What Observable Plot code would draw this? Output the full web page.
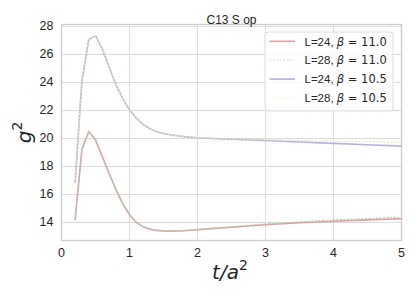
<!DOCTYPE html>
<html><head><meta charset="utf-8">
<script src="https://cdn.jsdelivr.net/npm/d3@7"></script>
<script src="https://cdn.jsdelivr.net/npm/@observablehq/plot@0.6"></script>
<style>body{margin:0;background:#fff}</style>
</head><body><div id="chart"></div>
<script>
const t = [0.2,0.3,0.4,0.5,0.6,0.7,0.8,0.9,1.0,1.1,1.2,1.3,1.4,1.5,1.6,1.8,2.0,2.2,2.5,3.0,3.5,4.0,4.5,5.0];
const L24b110 = [14.19,19.2,20.5,19.9,18.7,17.5,16.35,15.35,14.55,14.0,13.7,13.52,13.43,13.39,13.38,13.41,13.48,13.56,13.66,13.84,13.98,14.09,14.18,14.26];
const L28b110 = [14.19,19.2,20.5,19.9,18.7,17.5,16.35,15.35,14.55,14.0,13.7,13.52,13.43,13.39,13.38,13.42,13.5,13.58,13.7,13.9,14.05,14.18,14.28,14.38];
const L24b105 = [16.84,24.1,27.05,27.35,26.4,25.1,23.85,22.85,22.05,21.45,21.0,20.7,20.5,20.36,20.26,20.13,20.05,20.0,19.95,19.85,19.75,19.65,19.55,19.45];
const L28b105 = [16.84,24.1,27.05,27.35,26.4,25.1,23.85,22.85,22.05,21.45,21.0,20.7,20.5,20.36,20.26,20.13,20.06,20.02,19.98,19.92,19.86,19.81,19.77,19.73];
const xTicks = [0,1,2,3,4,5];
const yTicks = [14,16,18,20,22,24,26,28];
const title = "C13 S op";

const series = [
  {name:"L=24", beta:"11.0", vals:L24b110, color:"#e39ca2", dash:null, w:1.6},
  {name:"L=28", beta:"11.0", vals:L28b110, color:"#9dd8ac", dash:"1,2.6", w:1.2},
  {name:"L=24", beta:"10.5", vals:L24b105, color:"#b6b2de", dash:null, w:1.6},
  {name:"L=28", beta:"10.5", vals:L28b105, color:"#efe3b0", dash:"1,2.6", w:1.2},
];
const rows = (s) => t.map((x,i)=>({t:x, y:s.vals[i]}));
const sans = "'Liberation Sans', Arial, sans-serif";
const math = "'DejaVu Sans', sans-serif";

const plot = Plot.plot({
  width:415, height:297,
  marginLeft:61, marginRight:14, marginTop:24, marginBottom:57,
  style:{fontFamily:sans, fontSize:"12.5px", color:"#262626", background:"#fff"},
  x:{domain:[0,5], ticks:xTicks, tickSize:0, tickPadding:8, label:null, tickFormat:d=>String(d)},
  y:{domain:[12.71,28.14], ticks:yTicks, tickSize:0, tickPadding:8, label:null},
  marks:[
    Plot.gridX(xTicks,{stroke:"#dcdcdc", strokeOpacity:1, strokeWidth:1.1}),
    Plot.gridY(yTicks,{stroke:"#dcdcdc", strokeOpacity:1, strokeWidth:1.1}),
    Plot.frame({stroke:"#cccccc", strokeWidth:1.3}),
    ...series.map(s=>Plot.line(rows(s),{x:"t", y:"y", stroke:s.color, strokeWidth:s.w, strokeDasharray:s.dash})),
    Plot.text([title],{frameAnchor:"top", dy:-9, fontSize:12, fill:"#262626"}),
  ]
});
document.getElementById("chart").appendChild(plot);

const svg = d3.select(plot);
const yl = svg.append("text").attr("transform","translate(30.5,132.5) rotate(-90)")
  .attr("text-anchor","middle").attr("font-family",math).attr("font-size",20).attr("fill","#262626");
yl.append("tspan").attr("font-style","italic").text("g");
yl.append("tspan").attr("font-size",14).attr("dy",-9).text("2");
const xl = svg.append("text").attr("x",230).attr("y",279)
  .attr("text-anchor","middle").attr("font-family",math).attr("font-size",20).attr("fill","#262626");
xl.append("tspan").attr("font-style","italic").text("t/a");
xl.append("tspan").attr("font-size",14).attr("dy",-9).text("2");

const lg = svg.append("g").attr("transform","translate(265,32)");
lg.append("rect").attr("width",128).attr("height",79).attr("rx",3)
  .attr("fill","#fff").attr("fill-opacity",0.8).attr("stroke","#dddddd");
series.forEach((s,i)=>{
  const y = 9.3 + i*18.9;
  lg.append("line").attr("x1",4.5).attr("x2",30).attr("y1",y).attr("y2",y)
    .attr("stroke",s.color).attr("stroke-width",s.w).attr("stroke-dasharray",s.dash);
  const tx = lg.append("text").attr("x",39.5).attr("y",y+4.2).attr("text-anchor","start")
    .attr("font-family",sans).attr("font-size",11.5).attr("fill","#262626");
  tx.append("tspan").text(s.name+", ");
  tx.append("tspan").attr("font-family",math).attr("font-style","italic").text("β");
  tx.append("tspan").attr("font-family",math).text(" = "+s.beta);
});
</script></body></html>
